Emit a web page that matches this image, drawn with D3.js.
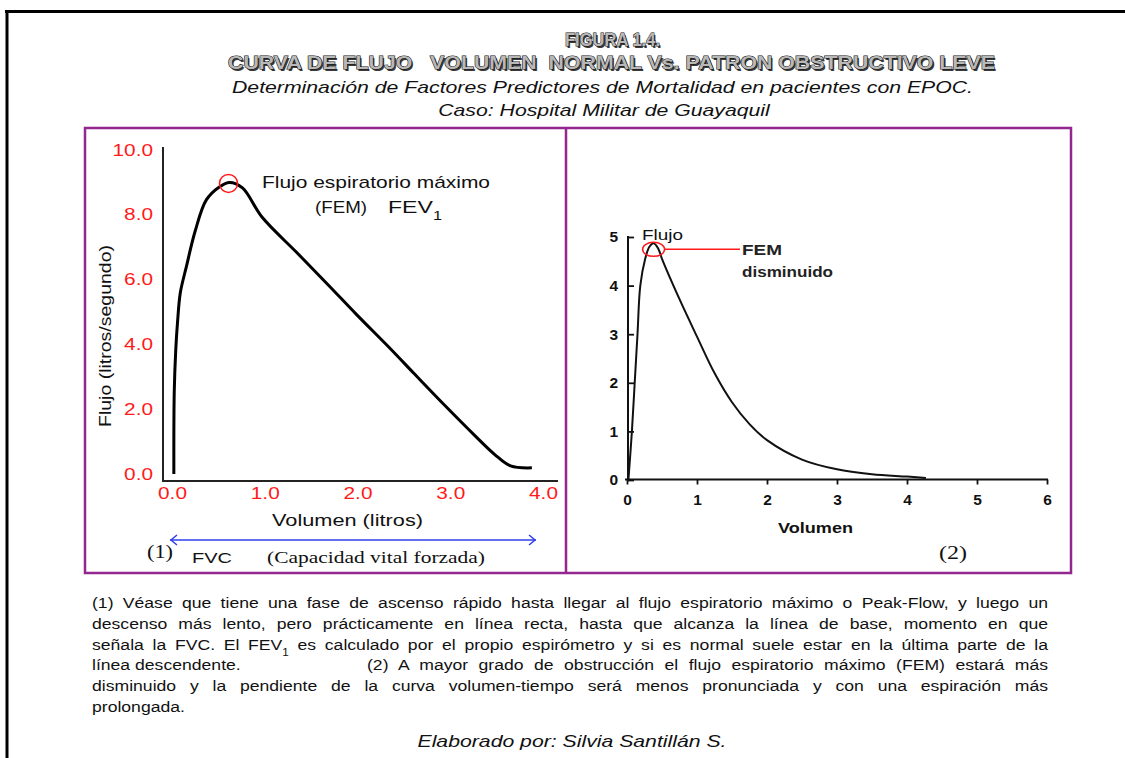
<!DOCTYPE html>
<html><head><meta charset="utf-8">
<script src="https://cdn.jsdelivr.net/npm/d3@7"></script>
<style>
body{margin:0;background:#fff}
svg{display:block}
</style>
</head><body>
<svg id="c" width="1125" height="758"></svg>
<script>
// ---------------- data ----------------
const leftVolume = [0.02, 0.024, 0.04, 0.06, 0.09, 0.155, 0.25, 0.37, 0.51, 0.62, 0.76, 0.97, 1.34, 1.69, 1.98, 2.36, 2.61, 2.94, 3.26, 3.48, 3.65, 3.88];
const leftFlow   = [0.0, 2.5, 3.8, 4.7, 5.6, 6.4, 7.5, 8.46, 8.86, 9.0, 8.83, 7.93, 6.85, 5.82, 4.95, 3.85, 3.1, 2.12, 1.2, 0.6, 0.25, 0.19];
const leftXTicks = [0, 1, 2, 3, 4];
const leftYTicks = [0, 2, 4, 6, 8, 10];

const rightVolume = [0.02, 0.07, 0.11, 0.15, 0.19, 0.26, 0.32, 0.38, 0.45, 0.5, 0.75, 1.0, 1.25, 1.5, 1.75, 2.0, 2.5, 3.0, 3.5, 4.0, 4.27];
const rightFlow   = [0.0, 1.0, 2.0, 3.0, 4.0, 4.55, 4.8, 4.87, 4.75, 4.55, 3.72, 2.95, 2.2, 1.6, 1.15, 0.82, 0.42, 0.22, 0.12, 0.07, 0.04];
const rightXTicks = [0, 1, 2, 3, 4, 5, 6];
const rightYTicks = [0, 1, 2, 3, 4, 5];

const titleBold = ["FIGURA 1.4.", "CURVA DE FLUJO   VOLUMEN  NORMAL Vs. PATRON OBSTRUCTIVO LEVE"];
const titleItalic = ["Determinación de Factores Predictores de Mortalidad en pacientes con EPOC.", "Caso: Hospital Militar de Guayaquil"];
const paragraphLines = [
  "(1) Véase que tiene una fase de ascenso rápido hasta llegar al flujo espiratorio máximo o Peak-Flow, y luego un",
  "descenso más lento, pero prácticamente en línea recta, hasta que alcanza la línea de base, momento en que",
  "señala la FVC. El FEV_1 es calculado por el propio espirómetro y si es normal suele estar en la última parte de la",
  "línea descendente.",
  "(2) A mayor grado de obstrucción el flujo espiratorio máximo (FEM) estará más",
  "disminuido y la pendiente de la curva volumen-tiempo será menos pronunciada y con una espiración más",
  "prolongada."
];
const footer = "Elaborado por: Silvia Santillán S.";

// ---------------- helpers ----------------
const svg = d3.select("#c");
const SANS = "'Liberation Sans', Arial, Helvetica, sans-serif";
const SERIF = "'Liberation Serif', 'Times New Roman', serif";
const PURPLE = "#93278f";
const RED = "#ff1a1a";

function txt(parent, opts) {
  return parent.append("text").style("font-family", opts.serif ? SERIF : SANS);
}
function fit(sel, width) {
  sel.attr("textLength", width).attr("lengthAdjust", "spacingAndGlyphs");
  return sel;
}
function stretch(sel, sx) {
  sel.each(function () {
    const w = this.getComputedTextLength();
    d3.select(this).attr("textLength", w * sx).attr("lengthAdjust", "spacingAndGlyphs");
  });
}
function addRich(textSel, str, subSize) {
  const parts = str.split(/(_1)/);
  parts.forEach(p => {
    if (p === "_1") {
      textSel.append("tspan").attr("font-size", subSize).attr("baseline-shift", "sub").text("1");
    } else if (p.length) {
      textSel.append("tspan").text(p);
    }
  });
}

// ---------------- outer frame ----------------
svg.append("line").attr("x1", 5).attr("x2", 1125).attr("y1", 11.5).attr("y2", 11.5)
  .attr("stroke", "#000").attr("stroke-width", 3);
svg.append("line").attr("x1", 7).attr("x2", 7).attr("y1", 10).attr("y2", 758)
  .attr("stroke", "#000").attr("stroke-width", 3);

// ---------------- title ----------------
const titleY = [46, 69];
const titleX = [[565, 95], [228, 767]];
titleBold.forEach((t, i) => {
  const x = titleX[i][0], w = titleX[i][1];
  fit(txt(svg, {}).attr("x", x + 1.6).attr("y", titleY[i] + 1.6).style("white-space", "pre")
    .attr("font-size", 17.5).attr("font-weight", "bold").attr("fill", "#3a3a3a").text(t), w);
  fit(txt(svg, {}).attr("x", x).attr("y", titleY[i]).style("white-space", "pre")
    .attr("font-size", 17.5).attr("font-weight", "bold").attr("fill", "#b8b8b8")
    .attr("stroke", "#111").attr("stroke-width", 1).attr("paint-order", "stroke")
    .text(t), w);
});
const t3 = txt(svg, {}).attr("x", 232).attr("y", 93).attr("font-size", 17)
  .attr("font-style", "italic").attr("fill", "#111").text(titleItalic[0]);
const italicSx = 741 / t3.node().getComputedTextLength();
fit(t3, 741);
const t4 = txt(svg, {}).attr("x", 604).attr("y", 116).attr("font-size", 17)
  .attr("font-style", "italic").attr("text-anchor", "middle").attr("fill", "#111").text(titleItalic[1]);
stretch(t4, italicSx);

// ---------------- purple frame ----------------
svg.append("rect").attr("x", 85).attr("y", 128).attr("width", 986).attr("height", 445)
  .attr("fill", "none").attr("stroke", PURPLE).attr("stroke-width", 2.5);
svg.append("line").attr("x1", 566).attr("x2", 566).attr("y1", 128).attr("y2", 573)
  .attr("stroke", PURPLE).attr("stroke-width", 2.5);

// ---------------- left chart ----------------
const xL = d3.scaleLinear().domain([0, 4]).range([172, 543]);
const yL = d3.scaleLinear().domain([0, 10]).range([474, 150]);

svg.append("line").attr("x1", 163).attr("x2", 163).attr("y1", 147).attr("y2", 482)
  .attr("stroke", "#222").attr("stroke-width", 2);
svg.append("line").attr("x1", 162).attr("x2", 558).attr("y1", 481).attr("y2", 481)
  .attr("stroke", "#222").attr("stroke-width", 2);

const gyL = svg.append("g").attr("transform", "translate(153,0)")
  .call(d3.axisLeft(yL).tickValues(leftYTicks).tickFormat(d3.format(".1f")).tickSize(0).tickPadding(0));
gyL.select(".domain").remove();
gyL.selectAll("text").attr("font-size", 16).attr("fill", RED).style("font-family", SANS);
stretch(gyL.selectAll("text"), 1.3);

const gxL = svg.append("g").attr("transform", "translate(0,488)")
  .call(d3.axisBottom(xL).tickValues(leftXTicks).tickFormat(d3.format(".1f")).tickSize(0).tickPadding(0));
gxL.select(".domain").remove();
gxL.selectAll("text").attr("font-size", 16).attr("fill", RED).style("font-family", SANS);
stretch(gxL.selectAll("text"), 1.3);

const leftData = leftVolume.map((v, i) => [v, leftFlow[i]]);
svg.append("path").datum(leftData)
  .attr("d", d3.line().x(d => xL(d[0])).y(d => yL(d[1])).curve(d3.curveCatmullRom.alpha(0.5)))
  .attr("fill", "none").attr("stroke", "#000").attr("stroke-width", 3).attr("stroke-linejoin", "round");

const lPeak = leftData.reduce((a, b) => (b[1] > a[1] ? b : a));
svg.append("circle").attr("cx", xL(lPeak[0]) - 1).attr("cy", yL(lPeak[1]) + 1).attr("r", 9)
  .attr("fill", "none").attr("stroke", RED).attr("stroke-width", 1.5);

fit(txt(svg, {}).attr("x", 262).attr("y", 188).attr("font-size", 17).attr("fill", "#111")
  .text("Flujo espiratorio máximo"), 228);
fit(txt(svg, {}).attr("x", 315).attr("y", 213).attr("font-size", 17).attr("fill", "#111")
  .text("(FEM)"), 52);
const fev = txt(svg, {}).attr("x", 388).attr("y", 213).attr("font-size", 17).attr("fill", "#111");
addRich(fev, "FEV_1", 12);
fit(fev, 54);

// y axis title
fit(txt(svg, {}).attr("transform", "translate(111,336) rotate(-90)")
  .attr("text-anchor", "middle").attr("font-size", 17).attr("fill", "#111")
  .text("Flujo (litros/segundo)"), 182);
// x axis title
fit(txt(svg, {}).attr("x", 272).attr("y", 526).attr("font-size", 17).attr("fill", "#111")
  .text("Volumen (litros)"), 151);

// FVC arrow
const BLUE = "#2f3fe8";
svg.append("line").attr("x1", 170).attr("x2", 536).attr("y1", 540).attr("y2", 540)
  .attr("stroke", BLUE).attr("stroke-width", 1.5);
svg.append("polyline").attr("points", "177,535 171,540 177,545").attr("fill", "none")
  .attr("stroke", BLUE).attr("stroke-width", 1.5);
svg.append("polyline").attr("points", "529,535 535,540 529,545").attr("fill", "none")
  .attr("stroke", BLUE).attr("stroke-width", 1.5);
fit(txt(svg, { serif: true }).attr("x", 147).attr("y", 558).attr("font-size", 19)
  .attr("fill", "#111").text("(1)"), 26);
fit(txt(svg, {}).attr("x", 192).attr("y", 563).attr("font-size", 15).attr("fill", "#111").text("FVC"), 40);
fit(txt(svg, { serif: true }).attr("x", 267).attr("y", 563).attr("font-size", 17)
  .attr("fill", "#111").text("(Capacidad vital forzada)"), 218);

// ---------------- right chart ----------------
const xR = d3.scaleLinear().domain([0, 6]).range([627, 1047]);
const yR = d3.scaleLinear().domain([0, 5]).range([480, 237]);

svg.append("line").attr("x1", 628).attr("x2", 628).attr("y1", 236).attr("y2", 480)
  .attr("stroke", "#111").attr("stroke-width", 2);
svg.append("line").attr("x1", 625).attr("x2", 1048).attr("y1", 479.5).attr("y2", 479.5)
  .attr("stroke", "#111").attr("stroke-width", 2);

const gyR = svg.append("g").attr("transform", "translate(628,0)")
  .call(d3.axisRight(yR).tickValues(rightYTicks).tickSize(6).tickFormat(d3.format("d")));
gyR.select(".domain").remove();
gyR.selectAll("line").attr("stroke", "#111").attr("stroke-width", 1.8);
gyR.selectAll("text").remove();
const gyRL = svg.append("g").attr("transform", "translate(618,0)")
  .call(d3.axisLeft(yR).tickValues(rightYTicks).tickSize(0).tickPadding(0).tickFormat(d3.format("d")));
gyRL.select(".domain").remove();
gyRL.selectAll("text").attr("font-size", 15.5).attr("font-weight", "bold").attr("fill", "#111")
  .style("font-family", SANS);

const gxR = svg.append("g").attr("transform", "translate(0,479.5)")
  .call(d3.axisBottom(xR).tickValues(rightXTicks).tickSize(5).tickPadding(9).tickFormat(d3.format("d")));
gxR.select(".domain").remove();
gxR.selectAll("line").attr("stroke", "#111").attr("stroke-width", 1.8);
gxR.selectAll("text").attr("font-size", 15.5).attr("font-weight", "bold").attr("fill", "#111")
  .style("font-family", SANS);

const rightData = rightVolume.map((v, i) => [v, rightFlow[i]]);
svg.append("path").datum(rightData)
  .attr("d", d3.line().x(d => xR(d[0])).y(d => yR(d[1])).curve(d3.curveCatmullRom.alpha(0.5)))
  .attr("fill", "none").attr("stroke", "#111").attr("stroke-width", 2).attr("stroke-linejoin", "round");

const rPeak = rightData.reduce((a, b) => (b[1] > a[1] ? b : a));
const ex = xR(rPeak[0]), ey = yR(rPeak[1]) + 6;
svg.append("ellipse").attr("cx", ex).attr("cy", ey).attr("rx", 11).attr("ry", 7)
  .attr("fill", "none").attr("stroke", RED).attr("stroke-width", 1.5);
svg.append("line").attr("x1", ex + 11).attr("x2", 740).attr("y1", ey).attr("y2", ey)
  .attr("stroke", RED).attr("stroke-width", 1.5);

fit(txt(svg, {}).attr("x", 642).attr("y", 240).attr("font-size", 15).attr("fill", "#111").text("Flujo"), 41);
fit(txt(svg, {}).attr("x", 742).attr("y", 255).attr("font-size", 15).attr("font-weight", "bold").attr("fill", "#222").text("FEM"), 40);
fit(txt(svg, {}).attr("x", 742).attr("y", 277).attr("font-size", 15).attr("font-weight", "bold").attr("fill", "#222").text("disminuido"), 91);
fit(txt(svg, {}).attr("x", 778).attr("y", 533).attr("font-size", 15).attr("font-weight", "bold").attr("fill", "#111").text("Volumen"), 75);
fit(txt(svg, { serif: true }).attr("x", 939).attr("y", 559).attr("font-size", 19)
  .attr("fill", "#111").text("(2)"), 28);

// ---------------- paragraph ----------------
const PFS = 15;
const probe = txt(svg, {}).attr("font-size", PFS).text("prolongada.");
const pSx = 93 / probe.node().getComputedTextLength();
probe.remove();
const baseY = [608, 629, 650, 670, 670, 691, 712];
const lineSpan = [[92, 1048, true], [92, 1048, true], [92, 1048, true], [92, null, false],
                  [367, 1048, true], [92, 1048, true], [92, null, false]];
paragraphLines.forEach((str, i) => {
  const [x0, x1, just] = lineSpan[i];
  const t = txt(svg, {}).attr("font-size", PFS).attr("fill", "#111")
    .attr("transform", `translate(${x0},${baseY[i]}) scale(${pSx},1)`);
  addRich(t, str, 10);
  if (just) {
    const L = t.node().getComputedTextLength();
    const n = (str.match(/ /g) || []).length;
    const ws = ((x1 - x0) / pSx - L) / n;
    t.attr("word-spacing", ws);
  }
});

const ft = txt(svg, {}).attr("x", 572).attr("y", 747).attr("font-size", 17)
  .attr("font-style", "italic").attr("text-anchor", "middle").attr("fill", "#111").text(footer);
fit(ft, 309);
</script>
</body></html>
